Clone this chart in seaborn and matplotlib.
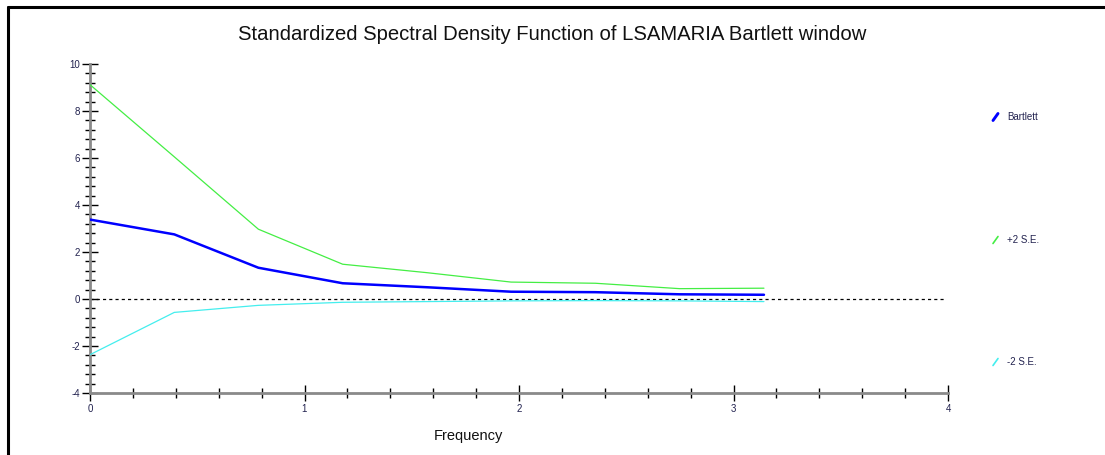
import numpy as np
import pandas as pd
import matplotlib
matplotlib.use("Agg")
import matplotlib.pyplot as plt
from matplotlib.ticker import MultipleLocator
from matplotlib.lines import Line2D
import seaborn as sns

# ---- data ----
freq = [0.0, 0.393, 0.785, 1.178, 1.571, 1.963, 2.356, 2.749, 3.142]
bartlett = [3.38, 2.75, 1.33, 0.67, 0.50, 0.31, 0.29, 0.20, 0.18]
upper_se = [9.12, 6.05, 2.97, 1.48, 1.12, 0.72, 0.67, 0.44, 0.46]
lower_se = [-2.37, -0.57, -0.27, -0.14, -0.11, -0.08, -0.07, -0.08, -0.11]
series_names = ["Bartlett", "+2 S.E.", "-2 S.E."]
x_ticks = [0, 1, 2, 3, 4]
y_ticks = [-4, -2, 0, 2, 4, 6, 8, 10]
title = "Standardized Spectral Density Function of LSAMARIA Bartlett window"
xlabel = "Frequency"

sns.set_style("white")
plt.rcParams["font.family"] = ["Liberation Sans", "DejaVu Sans"]
plt.rcParams["axes.unicode_minus"] = False

colors = {"Bartlett": "#0000ff", "+2 S.E.": "#44ee44", "-2 S.E.": "#44eeee"}
widths = {"Bartlett": 1.8, "+2 S.E.": 0.9, "-2 S.E.": 0.9}

df = pd.DataFrame({
    "freq": freq * 3,
    "value": bartlett + upper_se + lower_se,
    "series": [series_names[0]] * len(freq) + [series_names[1]] * len(freq) + [series_names[2]] * len(freq),
})

fig = plt.figure(figsize=(11.05, 4.55), dpi=100)
ax = fig.add_axes([90 / 1105, 1 - 393 / 455, (948 - 90) / 1105, (393 - 64) / 455])

ax.axhline(0, xmin=0, xmax=855 / 858, color="black", lw=0.9, ls=(0, (2.5, 2.5)), zorder=1)

for name in series_names:
    sub = df[df["series"] == name]
    sns.lineplot(data=sub, x="freq", y="value", ax=ax, color=colors[name],
                 lw=widths[name], legend=False, zorder=3)

ax.set_xlim(0, 4)
ax.set_ylim(-4, 10)
ax.set_xticks(x_ticks)
ax.set_yticks(y_ticks)
ax.xaxis.set_minor_locator(MultipleLocator(0.2))
ax.yaxis.set_minor_locator(MultipleLocator(0.4))
ax.set_xlabel("")
ax.set_ylabel("")

for s in ["top", "right"]:
    ax.spines[s].set_visible(False)
for s in ["left", "bottom"]:
    ax.spines[s].set_color("#8a8a8a")
    ax.spines[s].set_linewidth(2)
    ax.spines[s].set_zorder(2)

tick_col = "#22224f"
ax.tick_params(axis="both", which="both", bottom=True, left=True, top=False, right=False)
ax.tick_params(axis="both", which="major", direction="inout", length=12, width=1,
               color="black", labelsize=7, labelcolor=tick_col)
ax.tick_params(axis="both", which="minor", direction="inout", length=7, width=1, color="black")
ax.tick_params(axis="x", which="major", pad=2)
ax.tick_params(axis="y", which="major", pad=1)

# title and x label
fig.text(552 / 1105, 1 - 35 / 455, title, ha="center", va="center", fontsize=14.6, color="#111111")
fig.text(468 / 1105, 1 - 436 / 455, xlabel, ha="center", va="center", fontsize=10.5, color="#111111")

# legend on the right, spread vertically
leg_y = [117, 240, 362]
for name, yy in zip(series_names, leg_y):
    yf = 1 - yy / 455
    fig.add_artist(Line2D([993 / 1105, 998 / 1105], [yf - 3.5 / 455, yf + 3.5 / 455],
                          transform=fig.transFigure, color=colors[name],
                          lw=widths[name] + 0.3))
    fig.text(1007 / 1105, yf, name, ha="left", va="center", fontsize=7, color=tick_col)

# window frame (left and top edges)
fig.add_artist(Line2D([8 / 1105, 8 / 1105], [0, 1 - 7 / 455], transform=fig.transFigure,
                      color="black", lw=2.2))
fig.add_artist(Line2D([8 / 1105, 1], [1 - 7 / 455, 1 - 7 / 455], transform=fig.transFigure,
                      color="black", lw=2.2))

fig.savefig("out.png", dpi=100, facecolor="white")
